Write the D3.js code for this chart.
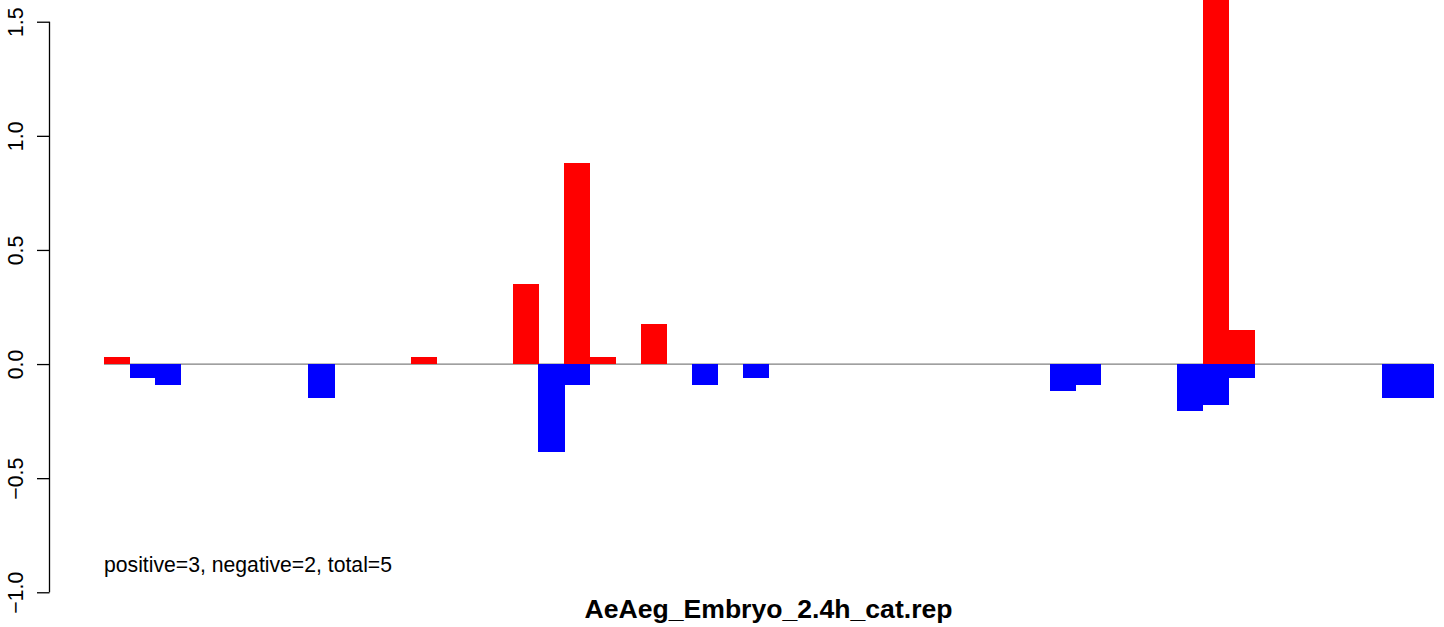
<!DOCTYPE html>
<html>
<head>
<meta charset="utf-8">
<script src="https://cdn.jsdelivr.net/npm/d3@7"></script>
<style>
  html, body { margin: 0; padding: 0; background: #fff; }
  svg { display: block; font-family: "Liberation Sans", Arial, sans-serif; }
</style>
</head>
<body>
<svg id="chart" width="1444" height="627"></svg>
<script>
// ---- data ----
const slots = d3.range(52);
const positiveSlots  = [0, 12, 16, 18, 19, 21, 43, 44];
const positiveValues = [0.03, 0.03, 0.35, 0.88, 0.03, 0.175, 2.0, 0.15];
const negativeSlots  = [1, 2, 8, 17, 18, 23, 25, 37, 38, 42, 43, 44, 50, 51];
const negativeValues = [-0.06, -0.09, -0.15, -0.385, -0.09, -0.09, -0.06, -0.117, -0.09, -0.205, -0.178, -0.06, -0.147, -0.147];
const yTicks = [-1.0, -0.5, 0.0, 0.5, 1.0, 1.5];
const yTickLabels = ["\u22121.0", "\u22120.5", "0.0", "0.5", "1.0", "1.5"];
const summaryText = "positive=3, negative=2, total=5";
const titleText = "AeAeg_Embryo_2.4h_cat.rep";

// ---- layout ----
const svg = d3.select("#chart");
const x = d3.scaleBand().domain(slots).range([104, 1433]).padding(0);
const y = d3.scaleLinear().domain([-1.1, 1.6]).range([615.1, -1.1]);

svg.append("defs").append("clipPath").attr("id", "plotclip")
  .append("rect").attr("x", 0).attr("y", y(1.6)).attr("width", 1444).attr("height", y(-1.1) - y(1.6));

const plot = svg.append("g").attr("clip-path", "url(#plotclip)");

// zero line
plot.append("line")
  .attr("x1", x(0)).attr("x2", x(51) + x.bandwidth())
  .attr("y1", y(0)).attr("y2", y(0))
  .attr("stroke", "#808080").attr("stroke-width", 1.2);

const posData = positiveSlots.map((s, i) => ({ s, v: positiveValues[i] }));
const negData = negativeSlots.map((s, i) => ({ s, v: negativeValues[i] }));

plot.selectAll("rect.pos").data(posData).join("rect").attr("class", "pos")
  .attr("x", d => x(d.s)).attr("width", x.bandwidth() + 0.5)
  .attr("y", d => y(d.v)).attr("height", d => y(0) - y(d.v))
  .attr("fill", "#ff0000").attr("shape-rendering", "crispEdges");

plot.selectAll("rect.neg").data(negData).join("rect").attr("class", "neg")
  .attr("x", d => x(d.s)).attr("width", x.bandwidth() + 0.5)
  .attr("y", y(0)).attr("height", d => y(d.v) - y(0))
  .attr("fill", "#0000ff").attr("shape-rendering", "crispEdges");

// y axis
const axisX = 49.5;
const yAxis = d3.axisLeft(y).tickValues(yTicks).tickSize(12.5)
  .tickFormat((d, i) => yTickLabels[i]);
const ax = svg.append("g").attr("transform", `translate(${axisX},0)`).call(yAxis);
ax.select(".domain").attr("d", `M0,${y(1.5)}V${y(-1.0)}`).attr("stroke", "#000").attr("stroke-width", 1.3);
ax.selectAll(".tick line").attr("stroke", "#000").attr("stroke-width", 1.3);
ax.selectAll(".tick text")
  .attr("x", 0).attr("dy", 0)
  .attr("transform", "translate(-27,0) rotate(-90)")
  .attr("text-anchor", "middle")
  .attr("fill", "#000")
  .style("font-size", "21.3px")
  .style("font-family", "'Liberation Sans', Arial, sans-serif");

// texts
svg.append("text").attr("x", x(0)).attr("y", 572)
  .attr("font-size", 21.2).attr("fill", "#000").text(summaryText);

svg.append("text").attr("x", (x(0) + x(51) + x.bandwidth()) / 2).attr("y", 618)
  .attr("text-anchor", "middle").attr("font-size", 26.6).attr("font-weight", "bold")
  .attr("fill", "#000").text(titleText);
</script>
</body>
</html>
